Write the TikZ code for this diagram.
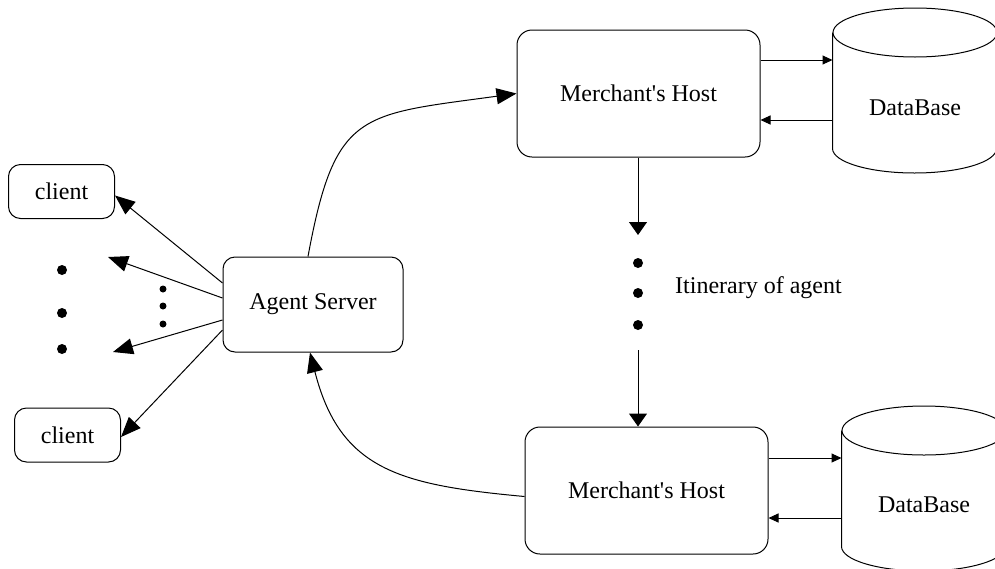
\documentclass[tikz,border=0pt]{standalone}
\usepackage{fontspec}
\setmainfont{Liberation Serif}
\usetikzlibrary{arrows.meta}

\begin{document}
\begin{tikzpicture}[x=0.5pt,y=-0.5pt,line width=0.5pt,
    font=\fontsize{12}{14}\selectfont,
    roundbox/.style={draw,rounded corners=6pt,inner sep=0pt},
    host/.style={roundbox,rounded corners=7.5pt,minimum width=121.5pt,minimum height=63.5pt},
    client/.style={roundbox,minimum width=53pt,minimum height=27pt},
    dbbody/.style={inner sep=0pt,minimum width=82pt,minimum height=57.5pt},
    spot/.style={circle,fill,inner sep=0pt,minimum size=#1},
    bigtip/.style={-{Triangle[length=10pt,width=8pt]}},
    downtip/.style={-{Triangle[length=6.5pt,width=9pt]}},
    dbtip/.style={-{Triangle[length=5pt,width=4.5pt]}}]
  \useasboundingbox (0,0) rectangle (995,568);

  \node[client] (client1) at (61.5,191.5) {client};
  \node[client] (client2) at (67.5,435) {client};
  \node[roundbox,minimum width=90pt,minimum height=47.5pt] (server) at (313,304.5) {Agent Server};
  \node[host] (host1) at (638.5,93.5) {Merchant\textquotesingle s Host};
  \node[host] (host2) at (646.5,490.5) {Merchant\textquotesingle s Host};
  \node[dbbody] (db1) at (915,90.5) {};
  \node[dbbody] (db2) at (924,488.5) {};
  \node (dbtext1) at ([yshift=-8.5pt]db1.center) {DataBase};
  \node (dbtext2) at ([yshift=-8.25pt]db2.center) {DataBase};
  \node[anchor=west] (itin) at (668,288) {Itinerary of agent};

  \foreach \db in {db1,db2}
    \draw (\db.north west) -- (\db.south west)
            arc[start angle=180,end angle=360,x radius=41pt,y radius=12.25pt] -- (\db.north east)
          (\db.north) ellipse[x radius=41pt,y radius=12.25pt];

  % clients that are not shown
  \node[spot=5pt] (left1) at (62,270) {};
  \node[spot=5pt] (left2) at (62,313) {};
  \node[spot=5pt] (left3) at (62,349) {};
  \node[spot=3.5pt] (mid1) at (163,289) {};
  \node[spot=3.5pt] (mid2) at (163,306) {};
  \node[spot=3.5pt] (mid3) at (163,324) {};
  \coordinate (more1) at (108,257);
  \coordinate (more2) at (113,352);

  % hosts between the two shown
  \coordinate (stop1) at (638,235);
  \coordinate (start2) at (638,350);
  \node[spot=5pt] (way1) at (638,263) {};
  \node[spot=5pt] (way2) at (638,293) {};
  \node[spot=5pt] (way3) at (638,325) {};

  \draw[bigtip] ([yshift=10.75pt]server.west) -- ([yshift=-2pt]client1.east);
  \draw[bigtip] ([yshift=3.25pt]server.west) -- (more1);
  \draw[bigtip] ([yshift=-7.75pt]server.west) -- (more2);
  \draw[bigtip] ([yshift=-12.75pt]server.west) -- ([yshift=-1pt]client2.east);

  \draw[bigtip] ([xshift=-2.5pt]server.north) .. controls (335,110) and (360,115) .. (host1.west);
  \draw[bigtip] ([yshift=-3pt]host2.west) .. controls (400,485) and (340,470) .. ([xshift=-1.5pt]server.south);

  \draw[downtip] (host1.south -| stop1) -- (stop1);
  \draw[downtip] (start2) -- (host2.north -| start2);

  \draw[dbtip] ([yshift=16.75pt]host1.east) -- ([yshift=16.75pt]host1.east -| db1.west);
  \draw[dbtip] ([yshift=-13.25pt]host1.east -| db1.west) -- ([yshift=-13.25pt]host1.east);
  \draw[dbtip] ([yshift=16.25pt]host2.east) -- ([yshift=16.25pt]host2.east -| db2.west);
  \draw[dbtip] ([yshift=-13.75pt]host2.east -| db2.west) -- ([yshift=-13.75pt]host2.east);
\end{tikzpicture}
\end{document}
